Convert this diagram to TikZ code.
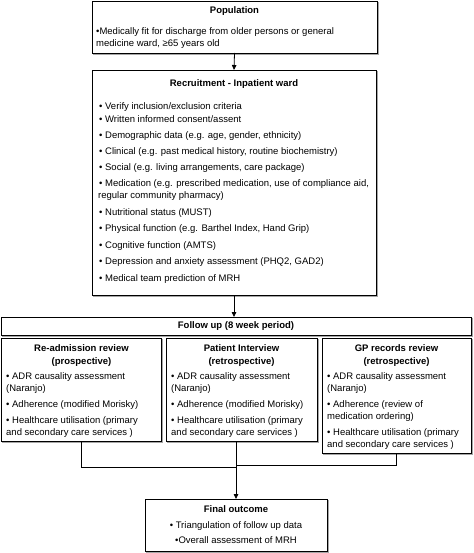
\documentclass[tikz,border=0pt]{standalone}
\usepackage{fontspec}
\setmainfont{Liberation Sans}
\usetikzlibrary{arrows.meta,shadows}
\begin{document}
\begin{tikzpicture}[x=1pt,y=-1pt,
  box/.style={draw=black,line width=0.8pt,fill=white,inner sep=0pt,outer sep=0pt,
    copy shadow={shadow xshift=1.3pt,shadow yshift=-1.3pt,draw=gray!70,fill=gray!70,line width=0.8pt}},
  txt/.style={inner sep=0pt,anchor=west,text height=6.8pt,text depth=2pt,font=\fontsize{9.5}{11}\selectfont},
  ttl/.style={inner sep=0pt,anchor=center,text height=6.8pt,text depth=2pt,font=\fontsize{9.5}{11}\selectfont\bfseries},
  ctr/.style={inner sep=0pt,anchor=center,text height=6.8pt,text depth=2pt,font=\fontsize{9.5}{11}\selectfont},
  conn/.style={line width=0.8pt,draw=black},
  arr/.style={conn,-{Triangle[length=5pt,width=4.5pt]}}]
\useasboundingbox (0,0) rectangle (473,553);
% boxes
\node[box,minimum width=285pt,minimum height=52pt] (pop) at (234.5,27) {};
\node[box,minimum width=284pt,minimum height=225pt] (rec) at (234,182.5) {};
\node[box,minimum width=470pt,minimum height=18pt] (fu) at (236,326) {};
\node[box,minimum width=160pt,minimum height=103pt] (left) at (81.5,389.5) {};
\node[box,minimum width=151pt,minimum height=103pt] (mid) at (241.5,389.5) {};
\node[box,minimum width=149pt,minimum height=115pt] (right) at (396.5,395.5) {};
\node[box,minimum width=182pt,minimum height=52pt] (final) at (236,525) {};
% population
\node[ttl] (popt) at (234.5,11) {Population};
\node[txt] (pop1) at (96,32) {•Medically fit for discharge from older persons or general};
\node[txt] (pop2) at (96,44) {medicine ward, ≥65 years old};
% recruitment
\node[ttl] (rect) at (234,84) {Recruitment - Inpatient ward};
\node[txt] (r1) at (99,107) {• Verify inclusion/exclusion criteria};
\node[txt] (r2) at (99,120) {• Written informed consent/assent};
\node[txt] (r3) at (99,136) {• Demographic data (e.g. age, gender, ethnicity)};
\node[txt] (r4) at (99,152) {• Clinical (e.g. past medical history, routine biochemistry)};
\node[txt] (r5) at (99,168) {• Social (e.g. living arrangements, care package)};
\node[txt] (r6) at (99,184) {• Medication (e.g. prescribed medication, use of compliance aid,};
\node[txt] (r6b) at (98,196) {regular community pharmacy)};
\node[txt] (r7) at (99,213) {• Nutritional status (MUST)};
\node[txt] (r8) at (99,229) {• Physical function (e.g. Barthel Index, Hand Grip)};
\node[txt] (r9) at (99,246) {• Cognitive function (AMTS)};
\node[txt] (r10) at (99,262) {• Depression and anxiety assessment (PHQ2, GAD2)};
\node[txt] (r11) at (99,279) {• Medical team prediction of MRH};
% follow up
\node[ttl] (fut) at (236,326) {Follow up (8 week period)};
% left
\node[ttl] (lt1) at (81.5,349) {Re-admission review};
\node[ttl] (lt2) at (81.5,362) {(prospective)};
\node[txt] (l1) at (6,377) {• ADR causality assessment};
\node[txt] (l1b) at (6,389) {(Naranjo)};
\node[txt] (l2) at (6,405) {• Adherence (modified Morisky)};
\node[txt] (l3) at (6,421) {• Healthcare utilisation (primary};
\node[txt] (l3b) at (6,433) {and secondary care services )};
% middle
\node[ttl] (mt1) at (241.5,349) {Patient Interview};
\node[ttl] (mt2) at (241.5,362) {(retrospective)};
\node[txt] (m1) at (171,377) {• ADR causality assessment};
\node[txt] (m1b) at (171,389) {(Naranjo)};
\node[txt] (m2) at (171,405) {• Adherence (modified Morisky)};
\node[txt] (m3) at (171,421) {• Healthcare utilisation (primary};
\node[txt] (m3b) at (171,433) {and secondary care services )};
% right
\node[ttl] (gt1) at (396.5,349) {GP records review};
\node[ttl] (gt2) at (396.5,362) {(retrospective)};
\node[txt] (g1) at (327,377) {• ADR causality assessment};
\node[txt] (g1b) at (327,389) {(Naranjo)};
\node[txt] (g2) at (327,405) {• Adherence (review of};
\node[txt] (g2b) at (327,417) {medication ordering)};
\node[txt] (g3) at (327,433) {• Healthcare utilisation (primary};
\node[txt] (g3b) at (327,445) {and secondary care services )};
% final
\node[ttl] (ft) at (236,510) {Final outcome};
\node[ctr] (f1) at (236,526) {• Triangulation of follow up data};
\node[ctr] (f2) at (236,541) {•Overall assessment of MRH};
% connectors
\draw[arr] (pop.south) -- (rec.north);
\draw[arr] (rec.south) -- (rec.south |- fu.north);
\coordinate (jl) at (final.north |- 0,467);
\coordinate (jr) at (final.north |- 0,465);
\draw[conn] (left.south) |- (jl);
\draw[conn] (right.south) |- (jr);
\draw[arr] (final.north |- mid.south) -- (final.north);
\end{tikzpicture}
\end{document}
